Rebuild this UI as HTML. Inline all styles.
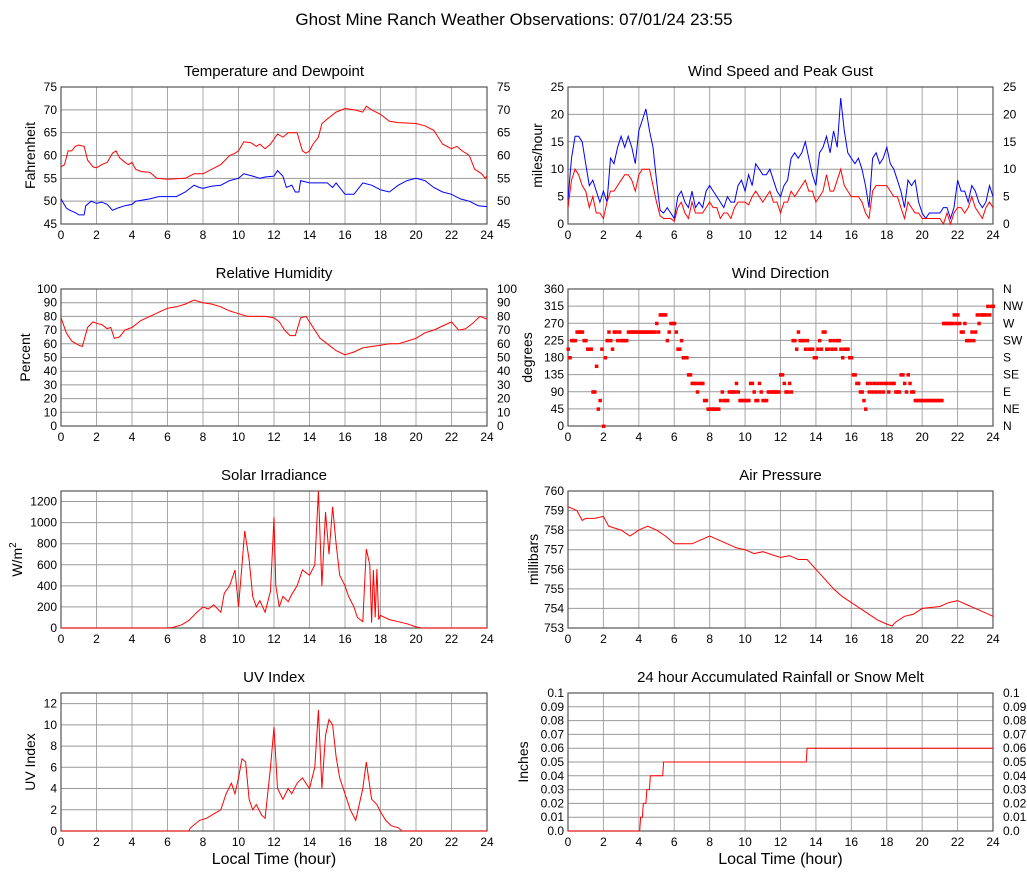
<!DOCTYPE html>
<html><head><meta charset="utf-8"><style>
body{margin:0;background:#fff}
svg{display:block;font-family:"Liberation Sans",Arial,sans-serif}
</style></head><body>
<svg id="c" width="1027" height="878" viewBox="0 0 1027 878"></svg>
<script>
// ---------- data ----------
const xTicks=[0,2,4,6,8,10,12,14,16,18,20,22,24];
const tempHours=[0,0.2,0.4,0.6,0.8,1.0,1.3,1.5,1.8,2.0,2.3,2.6,2.9,3.1,3.3,3.6,3.8,4.0,4.2,4.5,5.0,5.4,6,7,7.5,8,8.5,9,9.5,9.8,10,10.3,10.7,11,11.2,11.5,11.8,12.2,12.5,12.8,13.3,13.6,13.8,14.0,14.2,14.5,14.7,15,15.5,16,16.5,17,17.2,17.5,18,18.5,19,20,20.5,21,21.5,22,22.3,22.6,23,23.3,23.7,23.9,24];
const tempValues=[57.5,58,61,61,62,62.3,62,59,57.5,57.3,58,58.5,60.5,61,59.5,58.5,58,58.5,57,56.5,56.3,55,54.8,55,56,56,57,58,60,60.5,61,63,62.8,62,62.5,61.5,62.5,64.7,64,65,65,61,60.5,61,62.5,64,67,68,69.5,70.3,70,69.5,70.8,70,69,67.5,67.2,67,66.5,65.5,62.5,61.5,62,61,60,57,56,55,55.5];
const dewHours=[0,0.3,0.5,0.8,1.0,1.3,1.4,1.7,2.0,2.3,2.6,2.9,3.2,3.6,4.0,4.2,5,5.5,6,6.5,7,7.5,7.8,8,8.5,9,9.5,10,10.3,10.8,11.2,11.5,12,12.2,12.5,12.7,13,13.2,13.4,13.5,14,14.5,15,15.3,15.5,16,16.5,17,17.5,18,18.5,19,19.5,20,20.5,21,21.5,22,22.5,23,23.5,24];
const dewValues=[50.5,48.5,48,47.5,47,47,49,50,49.5,49.8,49.3,48,48.5,49,49.3,50,50.5,51,51,51,52,53.5,53,52.8,53.3,53.5,54.5,55,56,55.5,55,55.3,55.5,56.7,55.5,53,53.5,52,52,54.5,54,54,54,53,54,51.5,51.5,54,53.5,52.5,52,53.5,54.5,55,54.5,53,52,51.5,50.5,50,49,48.8];
const gustValues=[4.5,12,16,16,15,11,7,8,6,4,6,4,12,11,14,16,14,16,14,11,17,19,21,17,14,8,2.5,2,3,2,1,5,6,4,3,6,3,4,3,6,7,6,5,4,3,5,4,4,7,8,6,9,7,11,10,9,9,10,8,6,5,7,8,12,13,12,13,15,12,9,7,13,14,16,13,17,14,23,17,13,12,11,12,10,7,3,12,13,11,12,14,11,10,8,6,3,8,7,8,4,2,1,2,2,2,2,3,3,1,3,8,6,6,4,7,6,4,3,4,7,5];
const speedValues=[3,8,10,9,7,6,3,5,2,2,1,4,6,6,7,8,9,9,8,6,9,10,10,10,7,4,1.5,1,1,1,0.5,3,4,2,1,4,2,2,2,3,4,3,3,1,2,2,1,3,4,4,4,3.5,5,6,5,4,5,6,4,4,2,4,4,6,5,6,7,8,6,6,4,5,6,9,6,6,8,10,7,6,5,5,5,4,2,1,6,7,7,7,7,6,5,5,3,1,4,3,2,2,1,1,1,1,1,1,0,2,0,2,3,3,2,3,5,3,2,1,3,4,3];
const windStep=0.2;
const dirIndex=[9,8,10,10,10,11,11,11,11,10, 10,9,9,9,4,4,7,2,3,9, 0,8,10,11,10,9,11,11,10,11, 10,10,10,10,11,11,11,11,11,11, 11,11,11,11,11,11,11,11,11,11, 12,11,13,13,13,13,10,11,12,12, 12,11,9,9,10,8,8,8,6,6, 5,5,5,4,5,5,5,3,3,2, 2,2,2,2,2,2,3,4,3,3, 3,4,4,4,4,5,4,3,3,3, 3,3,3,5,5,4,3,3,5,4, 3,3,3,4,4,4,4,4,4,4, 6,6,5,4,4,5,4,10,10,9, 11,10,10,10,9,10,9,9,9,8, 8,9,10,9,11,11,9,9,10,9, 10,9,10,10,9,8,9,9,9,8, 8,6,6,5,5,4,4,3,2,5, 4,5,4,5,4,5,4,5,4,5, 5,4,5,5,5,4,4,4,6,6, 5,4,6,5,4,4,3,3,3,3, 3,3,3,3,3,3,3,3,3,3, 3,3,12,12,12,12,12,12,13,12, 13,12,11,11,12,10,10,10,11,10, 11,13,12,13,13,13,13,14,13,14, 14];
const dirStep=0.1;
const rhHours=[0,0.3,0.6,1.0,1.2,1.5,1.8,2.0,2.3,2.6,2.8,3.0,3.3,3.6,4,4.5,5,5.5,6,6.5,7,7.5,8,8.5,9,9.5,10,10.5,11,11.5,12,12.3,12.6,12.9,13.2,13.5,13.8,14,14.3,14.6,15,15.5,16,16.5,17,17.5,18,18.5,19,19.5,20,20.5,21,21.5,22,22.4,22.8,23.2,23.6,24];
const rhValues=[79,68,62,59,58,72,76,75,74,71,72,64,65,70,72,77,80,83,86,87,89,92,90,89,87,84,82,80,80,80,79,76,70,66,66,79,80,76,70,64,60,55,52,54,57,58,59,60,60,62,64,68,70,73,76,70,71,75,80,78];
const solarHours=[0,6,6.3,6.8,7.2,7.6,8,8.3,8.6,9,9.2,9.5,9.8,10,10.2,10.35,10.6,10.8,11,11.2,11.5,11.8,12,12.1,12.3,12.5,12.8,13,13.3,13.6,14,14.3,14.5,14.7,14.9,15.1,15.3,15.5,15.7,16,16.2,16.5,16.7,17,17.2,17.4,17.5,17.6,17.7,17.8,17.9,18,18.5,19,19.5,20,20.3,24];
const solarValues=[0,0,5,30,70,140,200,180,220,150,330,400,550,200,600,920,650,300,200,260,150,350,1050,400,200,300,250,320,400,550,500,600,1300,400,1100,700,1150,800,500,400,300,200,100,60,750,600,50,550,100,560,80,120,80,60,40,10,0,0];
const pressHours=[0,0.5,0.8,1,1.5,2,2.3,3,3.5,4,4.5,5,5.5,6,7,7.5,8,8.5,9,9.5,10,10.5,11,12,12.5,13,13.5,14,14.5,15,15.5,16,16.5,17,17.5,18,18.3,18.5,19,19.5,20,21,21.5,22,22.5,23,23.5,24];
const pressValues=[759.2,759,758.5,758.6,758.6,758.7,758.2,758,757.7,758,758.2,758,757.7,757.3,757.3,757.5,757.7,757.5,757.3,757.1,757,756.8,756.9,756.6,756.7,756.5,756.5,756,755.5,755,754.6,754.3,754,753.7,753.4,753.2,753.1,753.3,753.6,753.7,754,754.1,754.3,754.4,754.2,754,753.8,753.6];
const uvHours=[0,7.2,7.3,7.8,8.2,8.5,9,9.3,9.6,9.8,10,10.2,10.4,10.6,10.8,11,11.3,11.5,11.8,12,12.2,12.5,12.8,13,13.3,13.6,14,14.3,14.5,14.7,14.9,15.1,15.3,15.5,15.7,16,16.3,16.6,17,17.2,17.5,17.8,18,18.3,18.6,19,19.2,24];
const uvValues=[0,0,0.3,1,1.2,1.5,2,3.5,4.5,3.5,5,6.8,6.5,3,2,2.5,1.5,1.2,6,9.8,4,3,4,3.5,4.5,5,4,6,11.4,4,9,10.5,10,7,5,3.5,2,1,4,6.5,3,2.5,1.8,1,0.5,0.3,0,0];
const rainHours=[0,4.05,4.1,4.2,4.25,4.4,4.45,4.6,4.65,4.8,4.85,5.35,5.4,13.45,13.5,24];
const rainValues=[0,0,0.01,0.01,0.02,0.02,0.03,0.03,0.04,0.04,0.04,0.04,0.05,0.05,0.06,0.06];
const tempTicks=[45,50,55,60,65,70,75];
const windTicks=[0,5,10,15,20,25];
const rhTicks=[0,10,20,30,40,50,60,70,80,90,100];
const dirTicks=[0,45,90,135,180,225,270,315,360];
const dirLabels=["N","NE","E","SE","S","SW","W","NW","N"];
const solarTicks=[0,200,400,600,800,1000,1200];
const pressTicks=[753,754,755,756,757,758,759,760];
const uvTicks=[0,2,4,6,8,10,12];
const rainTicks=[0,0.01,0.02,0.03,0.04,0.05,0.06,0.07,0.08,0.09,0.1];
const rainLabels=["0.0","0.01","0.02","0.03","0.04","0.05","0.06","0.07","0.08","0.09","0.1"];

// ---------- drawing ----------
const NS="http://www.w3.org/2000/svg";
const svg=document.getElementById('c');
function mk(tag,attrs,parent){const e=document.createElementNS(NS,tag);for(const k in attrs)e.setAttribute(k,attrs[k]);(parent||svg).appendChild(e);return e;}
function txt(s,x,y,size,anchor,parent){const t=mk('text',{x:x,y:y,'font-size':size,'text-anchor':anchor||'middle',fill:'#000'},parent);t.textContent=s;return t;}

const title=txt('Ghost Mine Ranch Weather Observations: 07/01/24 23:55',514,25,17);



function panel(p){
  const g=mk('g',{});
  
  
  const L=p.x0,R=p.x1,T=p.y0,B=p.y1;
  const sx=h=>L+(R-L)*h/24;
  const sy=v=>B-(B-T)*(v-p.min)/(p.max-p.min);
  p.sx=sx;p.sy=sy;
  const t=txt(p.title,(L+R)/2,T-11,15,'middle',g);
  
  
  // grid
  xTicks.forEach(h=>{mk('line',{x1:sx(h),x2:sx(h),y1:T,y2:B,stroke:'#a8a8a8','stroke-width':1},g);});
  p.ticks.forEach(v=>{mk('line',{x1:L,x2:R,y1:sy(v),y2:sy(v),stroke:'#999','stroke-width':1},g);});
  const fr=mk('rect',{x:L,y:T,width:R-L,height:B-T,fill:'none',stroke:'#555','stroke-width':1.2},g);
  
  
  // tick labels
  p.ticks.forEach((v,i)=>{
    const lab=p.leftLabels?p.leftLabels[i]:String(v);
    const a=txt(lab,L-4,sy(v)+4,12,'end',g);
    
    
    if(p.rightLabels){
      const b=txt(p.rightLabels[i],R+10,sy(v)+4,12,'start',g);
      
      
    }
  });
  xTicks.forEach(h=>{
    const a=txt(String(h),sx(h),B+15,12,'middle',g);
    
    
  });
  const yt=mk('text',{x:0,y:0,'font-size':14,'text-anchor':'middle',transform:`translate(${p.ylx},${(T+B)/2}) rotate(-90)`},g);
  
  
  if(p.sup){yt.textContent=p.ylab;const s=mk('tspan',{'font-size':10,dy:-6},yt);s.textContent=p.sup;}
  else yt.textContent=p.ylab;
  if(p.xlab){
    const xt=txt('Local Time (hour)',(L+R)/2,B+33,16,'middle',g);
    
    
  }
  return g;
}
function line(p,g,hours,vals,color,name){
  const pts=vals.map((v,i)=>p.sx(hours[i]).toFixed(1)+','+p.sy(v).toFixed(1)).join(' ');
  const pl=mk('polyline',{points:pts,fill:'none',stroke:color,'stroke-width':1},g);
  
  
}
const LX0=61,LX1=487,RX0=568,RX1=993;
const rows=[[87,224],[289,426],[491,628],[693,831]];

// Temperature
let p={name:'temperature-chart',title:'Temperature and Dewpoint',x0:LX0,x1:LX1,y0:rows[0][0],y1:rows[0][1],min:45,max:75,ticks:tempTicks,rightLabels:tempTicks.map(String),ylab:'Fahrenheit',ylx:35};
let g=panel(p);
line(p,g,tempHours,tempValues,'#f00','temperature-line');
line(p,g,dewHours,dewValues,'#00f','dewpoint-line');

// Wind speed
p={name:'wind-speed-chart',title:'Wind Speed and Peak Gust',x0:RX0,x1:RX1,y0:rows[0][0],y1:rows[0][1],min:0,max:25,ticks:windTicks,rightLabels:windTicks.map(String),ylab:'miles/hour',ylx:542};
g=panel(p);
const windHours=gustValues.map((v,i)=>i*windStep);
line(p,g,windHours,gustValues,'#00f','gust-line');
line(p,g,windHours,speedValues,'#f00','speed-line');

// Humidity
p={name:'humidity-chart',title:'Relative Humidity',x0:LX0,x1:LX1,y0:rows[1][0],y1:rows[1][1],min:0,max:100,ticks:rhTicks,rightLabels:rhTicks.map(String),ylab:'Percent',ylx:30};
g=panel(p);
line(p,g,rhHours,rhValues,'#f00','humidity-line');

// Wind direction
p={name:'wind-direction-chart',title:'Wind Direction',x0:RX0,x1:RX1,y0:rows[1][0],y1:rows[1][1],min:0,max:360,ticks:dirTicks,rightLabels:dirLabels,ylab:'degrees',ylx:532};
g=panel(p);
dirIndex.forEach((d,i)=>{
  const r=mk('rect',{x:p.sx(i*dirStep)-1.5,y:p.sy(d*22.5)-1.5,width:3.5,height:3.5,fill:'#f00'},g);
  
  
});

// Solar
p={name:'solar-chart',title:'Solar Irradiance',x0:LX0,x1:LX1,y0:rows[2][0],y1:rows[2][1],min:0,max:1300,ticks:solarTicks,ylab:'W/m',sup:'2',ylx:22};
g=panel(p);
line(p,g,solarHours,solarValues,'#f00','solar-line');

// Pressure
p={name:'pressure-chart',title:'Air Pressure',x0:RX0,x1:RX1,y0:rows[2][0],y1:rows[2][1],min:753,max:760,ticks:pressTicks,ylab:'millibars',ylx:538};
g=panel(p);
line(p,g,pressHours,pressValues,'#f00','pressure-line');

// UV
p={name:'uv-chart',title:'UV Index',x0:LX0,x1:LX1,y0:rows[3][0],y1:rows[3][1],min:0,max:13,ticks:uvTicks,ylab:'UV Index',ylx:35,xlab:true};
g=panel(p);
line(p,g,uvHours,uvValues,'#f00','uv-line');

// Rain
p={name:'rain-chart',title:'24 hour Accumulated Rainfall or Snow Melt',x0:RX0,x1:RX1,y0:rows[3][0],y1:rows[3][1],min:0,max:0.1,ticks:rainTicks,leftLabels:rainLabels,rightLabels:rainLabels,ylab:'Inches',ylx:528,xlab:true};
g=panel(p);
line(p,g,rainHours,rainValues,'#f00','rain-line');
</script>
</body></html>
